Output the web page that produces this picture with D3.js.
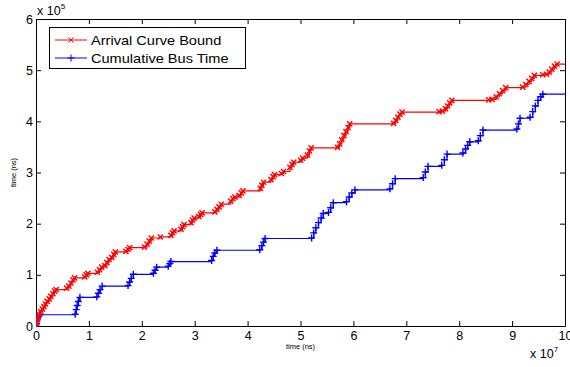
<!DOCTYPE html>
<html>
<head>
<meta charset="utf-8">
<script src="https://cdn.jsdelivr.net/npm/d3@7"></script>
<style>
  body { margin: 0; background: #fff; }
  svg { display: block; font-family: "Liberation Sans", Arial, sans-serif; }
  .axis path, .axis line { stroke: #000; }
  .axis text { fill: #000; }
</style>
</head>
<body>
<div id="chart"></div>
<script>
// values in units of 1e7 ns (x) and 1e5 ns (y)
var xTicks = [0, 1, 2, 3, 4, 5, 6, 7, 8, 9, 10],
    yTicks = [0, 1, 2, 3, 4, 5, 6];

var seriesNames = ["Arrival Curve Bound", "Cumulative Bus Time"];

var redX = [0, 0.01, 0.02, 0.04, 0.06, 0.09, 0.12, 0.15, 0.18, 0.21, 0.25, 0.28, 0.32, 0.35, 0.38,
  0.58, 0.62, 0.66, 0.70, 0.73,
  0.92, 0.95, 0.98,
  1.16, 1.20, 1.24, 1.30, 1.34, 1.38, 1.43, 1.47, 1.50,
  1.70, 1.74, 1.77,
  2.05, 2.10, 2.14, 2.18,
  2.35,
  2.55, 2.58, 2.61, 2.74, 2.77, 2.80, 2.93, 2.96, 2.99, 3.08, 3.11, 3.14,
  3.38, 3.42, 3.46, 3.50, 3.68, 3.72, 3.76, 3.84, 3.88, 3.91,
  4.24, 4.27, 4.30, 4.44, 4.48, 4.51, 4.64, 4.68, 4.80, 4.84, 4.87, 5.00, 5.04, 5.13, 5.17, 5.20,
  5.70, 5.74, 5.78, 5.82, 5.86, 5.90, 5.93,
  6.76, 6.80, 6.84, 6.88, 6.92,
  7.62, 7.68, 7.74, 7.78, 7.82, 7.86,
  8.56, 8.62, 8.70, 8.76, 8.82, 8.88,
  9.20, 9.26, 9.32, 9.37, 9.42,
  9.58, 9.65, 9.70, 9.75, 9.80, 9.85,
  10.0];
var redY = [0, 0.06, 0.12, 0.18, 0.23, 0.28, 0.33, 0.38, 0.43, 0.48, 0.53, 0.58, 0.63, 0.68, 0.71,
  0.74, 0.78, 0.84, 0.90, 0.94,
  0.96, 1.00, 1.03,
  1.05, 1.10, 1.15, 1.18, 1.24, 1.30, 1.34, 1.40, 1.45,
  1.46, 1.50, 1.53,
  1.54, 1.60, 1.66, 1.72,
  1.74,
  1.77, 1.82, 1.86, 1.89, 1.94, 1.98, 2.02, 2.07, 2.11, 2.14, 2.18, 2.21,
  2.23, 2.28, 2.33, 2.38, 2.44, 2.49, 2.52, 2.55, 2.60, 2.64,
  2.69, 2.75, 2.81, 2.86, 2.92, 2.96, 2.98, 3.02, 3.10, 3.16, 3.20, 3.24, 3.28, 3.34, 3.42, 3.48,
  3.49, 3.56, 3.64, 3.72, 3.80, 3.88, 3.95,
  3.96, 4.02, 4.08, 4.14, 4.18,
  4.19, 4.20, 4.25, 4.30, 4.36, 4.41,
  4.42, 4.43, 4.48, 4.54, 4.60, 4.66,
  4.67, 4.72, 4.78, 4.84, 4.90,
  4.91, 4.92, 4.96, 5.02, 5.08, 5.12,
  5.12];

var blueX = [0, 0.01, 0.02, 0.03, 0.05, 0.07,
  0.74, 0.76, 0.78, 0.80, 0.83,
  1.15, 1.18, 1.21, 1.25,
  1.74, 1.77, 1.80, 1.84,
  2.22, 2.25, 2.28,
  2.50, 2.53, 2.55,
  3.32, 3.35, 3.38, 3.42,
  4.23, 4.27, 4.30, 4.33,
  5.21, 5.25, 5.29, 5.34, 5.39, 5.43,
  5.53, 5.57, 5.62,
  5.87, 5.92, 5.97, 6.03,
  6.69, 6.74, 6.79,
  7.32, 7.36, 7.41,
  7.67, 7.72, 7.77,
  8.07, 8.12, 8.16, 8.20,
  8.36, 8.40, 8.45,
  9.09, 9.12, 9.15,
  9.34, 9.39, 9.44, 9.49, 9.54, 9.58,
  10.0];
var blueY = [0, 0.05, 0.10, 0.14, 0.18, 0.22,
  0.23, 0.32, 0.40, 0.48, 0.56,
  0.57, 0.64, 0.71, 0.78,
  0.79, 0.86, 0.93, 1.01,
  1.03, 1.09, 1.15,
  1.17, 1.22, 1.26,
  1.28, 1.36, 1.43, 1.48,
  1.49, 1.57, 1.64, 1.71,
  1.72, 1.82, 1.92, 2.02, 2.11, 2.20,
  2.22, 2.31, 2.41,
  2.43, 2.52, 2.60, 2.66,
  2.68, 2.78, 2.88,
  2.90, 3.01, 3.12,
  3.14, 3.25, 3.36,
  3.38, 3.46, 3.53, 3.60,
  3.62, 3.72, 3.83,
  3.85, 3.95, 4.06,
  4.08, 4.19, 4.30, 4.41, 4.48, 4.53,
  4.53];

var width = 570,
    height = 367,
    pLeft = 36, pRight = 565, pTop = 19, pBottom = 326;

var x = d3.scaleLinear().domain([0, 10]).range([pLeft, pRight]);
var y = d3.scaleLinear().domain([0, 6]).range([pBottom, pTop]);

var svg = d3.select("#chart").append("svg")
    .attr("width", width)
    .attr("height", height);

svg.append("defs").append("clipPath")
    .attr("id", "plotclip")
  .append("rect")
    .attr("x", pLeft).attr("y", pTop - 1)
    .attr("width", pRight - pLeft).attr("height", pBottom - pTop + 2);

// axes, MATLAB style box with inward ticks
svg.append("g")
    .attr("class", "axis")
    .attr("transform", "translate(0," + pBottom + ")")
    .call(d3.axisBottom(x).tickValues(xTicks).tickSize(-5).tickPadding(5).tickSizeOuter(0).tickFormat(d3.format("d")));

svg.append("g")
    .attr("class", "axis")
    .attr("transform", "translate(0," + pTop + ")")
    .call(d3.axisTop(x).tickValues(xTicks).tickSize(-5).tickSizeOuter(0).tickFormat(""));

svg.append("g")
    .attr("class", "axis")
    .attr("transform", "translate(" + pLeft + ",0)")
    .call(d3.axisLeft(y).tickValues(yTicks).tickSize(-5).tickPadding(3).tickSizeOuter(0).tickFormat(d3.format("d")));

svg.append("g")
    .attr("class", "axis")
    .attr("transform", "translate(" + pRight + ",0)")
    .call(d3.axisRight(y).tickValues(yTicks).tickSize(-5).tickSizeOuter(0).tickFormat(""));

svg.selectAll(".axis text").attr("font-size", null).style("font-size", "12.5px");

// exponents
var e1 = svg.append("text").attr("x", 37).attr("y", 15).style("font-size", "12.5px");
e1.append("tspan").text("x 10");
e1.append("tspan").attr("dy", -6).style("font-size", "8px").text("5");

var e2 = svg.append("text").attr("x", 530).attr("y", 358).style("font-size", "12.5px");
e2.append("tspan").text("x 10");
e2.append("tspan").attr("dy", -6).style("font-size", "8px").text("7");

// axis titles
svg.append("text")
    .attr("x", (pLeft + pRight) / 2)
    .attr("y", 349)
    .attr("text-anchor", "middle")
    .style("font-size", "7.5px")
    .text("time (ns)");

svg.append("text")
    .attr("transform", "translate(16," + ((pTop + pBottom) / 2) + ") rotate(-90)")
    .attr("text-anchor", "middle")
    .style("font-size", "7.5px")
    .text("time (ns)");

var line = d3.line()
    .x(function(d) { return x(d[0]); })
    .y(function(d) { return y(d[1]); })
    .curve(d3.curveStepAfter);

var redData = redX.map(function(v, i) { return [v, redY[i]]; }),
    blueData = blueX.map(function(v, i) { return [v, blueY[i]]; });

var plot = svg.append("g").attr("clip-path", "url(#plotclip)");

function crossPath(s) { return "M" + -s + "," + -s + "L" + s + "," + s + "M" + -s + "," + s + "L" + s + "," + -s; }
function plusPath(s) { return "M" + -s + ",0L" + s + ",0M0," + -s + "L0," + s; }

function drawSeries(data, color, marker) {
  plot.append("path")
      .datum(data)
      .attr("fill", "none")
      .attr("stroke", color)
      .attr("stroke-width", 1.2)
      .attr("d", line);
  plot.selectAll(null)
      .data(data.filter(function(d) { return d[0] < 10; }))
      .enter().append("path")
      .attr("transform", function(d) { return "translate(" + x(d[0]) + "," + y(d[1]) + ")"; })
      .attr("d", marker)
      .attr("fill", "none")
      .attr("stroke", color)
      .attr("stroke-width", 1.4);
}

drawSeries(blueData, "#0000ff", plusPath(3.5));
drawSeries(redData, "#ff0000", crossPath(2.6));

// legend
var legend = svg.append("g");
legend.append("rect")
    .attr("x", 49.5).attr("y", 27.5)
    .attr("width", 196).attr("height", 41)
    .attr("fill", "#fff")
    .attr("stroke", "#000");

var legendItems = [
  { name: seriesNames[0], color: "#ff0000", marker: crossPath(2.5), y: 40 },
  { name: seriesNames[1], color: "#0000ff", marker: plusPath(3.5), y: 58 }
];

legendItems.forEach(function(it) {
  legend.append("line")
      .attr("x1", 55).attr("x2", 87)
      .attr("y1", it.y).attr("y2", it.y)
      .attr("stroke", it.color);
  legend.append("path")
      .attr("transform", "translate(71," + it.y + ")")
      .attr("d", it.marker)
      .attr("fill", "none")
      .attr("stroke", it.color);
  legend.append("text")
      .attr("transform", "translate(91," + (it.y + 4.5) + ") scale(1.12,1)")
      .style("font-size", "13px")
      .text(it.name);
});
</script>
</body>
</html>
